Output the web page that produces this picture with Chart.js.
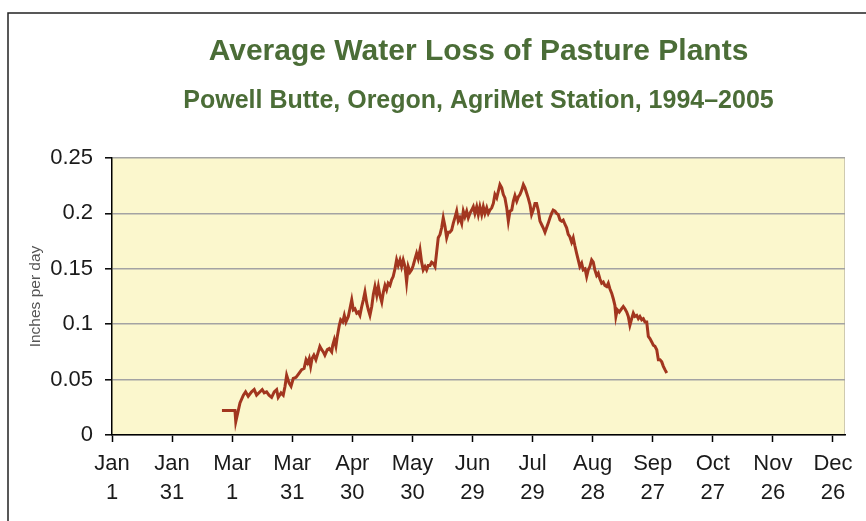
<!DOCTYPE html>
<html>
<head>
<meta charset="utf-8">
<script src="https://cdn.jsdelivr.net/npm/chart.js@4/dist/chart.umd.min.js"></script>
<style>
  body { margin: 0; background: #fff; }
</style>
</head>
<body>
<canvas id="waterChart" width="866" height="521"></canvas>
<script>
// DATA
const titleText = 'Average Water Loss of Pasture Plants';
const subtitleText = 'Powell Butte, Oregon, AgriMet Station, 1994–2005';

// day of year (0 = Jan 1)
const dayOfYear = [
    54.9, 61.4, 61.8, 63.9, 65.6, 66.7, 68.0, 69.7, 71.0, 72.2,
    73.9, 75.0, 76.0, 77.2, 78.4, 79.7, 81.0, 82.2, 83.0, 84.4,
    85.5, 86.4, 87.2, 88.4, 89.4, 90.5, 91.9, 93.1, 94.7, 95.9,
    96.9, 97.7, 98.5, 99.2, 99.9, 100.8, 101.8, 103.0, 103.8, 104.7,
    105.5, 106.3, 107.5, 108.5, 109.7, 110.2, 111.0, 111.8, 112.5, 113.5,
    114.2, 115.2, 116.0, 116.8, 118.0, 118.8, 119.7, 120.5, 121.3, 122.2,
    123.0, 123.8, 124.7, 125.5, 126.3, 127.2, 128.0, 128.8, 129.7, 130.5,
    131.3, 132.2, 133.0, 133.8, 134.7, 135.5, 136.3, 137.1, 137.9, 138.8,
    139.6, 140.4, 141.3, 142.1, 142.9, 143.8, 144.6, 145.4, 146.3, 147.1,
    147.9, 148.8, 149.6, 150.4, 151.3, 152.1, 152.9, 153.8, 154.6, 155.4,
    156.3, 157.1, 157.9, 158.8, 159.6, 160.4, 161.3, 162.1, 162.9, 163.8,
    164.6, 165.4, 166.3, 167.1, 167.9, 168.7, 169.6, 170.4, 171.2, 172.1,
    172.9, 173.7, 174.6, 175.4, 176.2, 177.1, 177.9, 178.7, 179.6, 180.4,
    181.2, 182.1, 182.9, 183.7, 184.6, 185.4, 186.2, 187.1, 187.9, 188.7,
    189.6, 190.4, 191.2, 192.1, 192.9, 193.7, 194.6, 195.4, 196.2, 197.1,
    197.9, 198.7, 199.6, 200.4, 201.2, 202.1, 202.9, 203.7, 204.6, 205.4,
    206.2, 207.1, 207.8, 208.7, 209.5, 210.3, 211.2, 212.0, 212.8, 213.7,
    214.5, 215.3, 216.2, 217.0, 217.8, 218.7, 219.5, 220.3, 221.2, 222.0,
    222.8, 223.7, 224.5, 225.3, 226.2, 227.0, 227.8, 228.6, 229.5, 230.3,
    231.1, 232.0, 232.8, 233.6, 234.5, 235.3, 236.2, 237.0, 237.8, 238.6,
    239.5, 240.3, 241.1, 242.0, 242.8, 243.6, 244.5, 245.3, 246.1, 247.0,
    247.8, 248.6, 249.5, 250.3, 251.1, 251.6, 252.3, 253.3, 254.5, 255.3,
    256.1, 257.0, 257.8, 258.6, 259.5, 260.3, 261.1, 262.0, 262.8, 263.6,
    264.5, 265.3, 266.1, 267.0, 267.8, 268.6, 269.5, 270.3, 271.1, 272.0,
    272.8, 273.6, 274.5, 275.3, 276.1, 277.0
];

// inches per day
const inchesPerDay = [
    0.022, 0.022, 0.012, 0.029, 0.036, 0.039, 0.035, 0.039, 0.041, 0.036,
    0.039, 0.041, 0.038, 0.039, 0.036, 0.034, 0.039, 0.041, 0.034, 0.038,
    0.036, 0.044, 0.054, 0.047, 0.044, 0.051, 0.052, 0.055, 0.059, 0.060,
    0.068, 0.065, 0.069, 0.062, 0.069, 0.072, 0.068, 0.075, 0.080, 0.077,
    0.075, 0.072, 0.077, 0.078, 0.075, 0.081, 0.086, 0.080, 0.089, 0.099,
    0.104, 0.102, 0.108, 0.102, 0.107, 0.114, 0.122, 0.113, 0.114, 0.110,
    0.111, 0.108, 0.116, 0.122, 0.129, 0.119, 0.113, 0.108, 0.116, 0.127,
    0.134, 0.126, 0.134, 0.126, 0.120, 0.129, 0.135, 0.131, 0.137, 0.135,
    0.140, 0.143, 0.150, 0.158, 0.153, 0.158, 0.152, 0.158, 0.152, 0.138,
    0.152, 0.147, 0.149, 0.153, 0.159, 0.164, 0.159, 0.167, 0.156, 0.149,
    0.152, 0.149, 0.153, 0.153, 0.156, 0.155, 0.152, 0.165, 0.178, 0.181,
    0.187, 0.196, 0.188, 0.178, 0.183, 0.183, 0.185, 0.191, 0.196, 0.202,
    0.193, 0.196, 0.191, 0.202, 0.197, 0.202, 0.196, 0.200, 0.203, 0.206,
    0.200, 0.206, 0.199, 0.206, 0.199, 0.206, 0.200, 0.205, 0.200, 0.203,
    0.205, 0.209, 0.217, 0.214, 0.220, 0.226, 0.223, 0.217, 0.214, 0.205,
    0.193, 0.202, 0.203, 0.211, 0.216, 0.211, 0.215, 0.217, 0.221, 0.226,
    0.223, 0.218, 0.214, 0.208, 0.199, 0.203, 0.209, 0.209, 0.203, 0.193,
    0.190, 0.187, 0.183, 0.187, 0.191, 0.196, 0.200, 0.203, 0.202, 0.200,
    0.199, 0.194, 0.193, 0.194, 0.190, 0.187, 0.181, 0.179, 0.174, 0.178,
    0.171, 0.164, 0.158, 0.152, 0.155, 0.149, 0.150, 0.143, 0.149, 0.152,
    0.158, 0.156, 0.149, 0.144, 0.146, 0.141, 0.137, 0.138, 0.135, 0.134,
    0.137, 0.132, 0.128, 0.123, 0.117, 0.107, 0.113, 0.111, 0.114, 0.116,
    0.114, 0.111, 0.107, 0.099, 0.105, 0.110, 0.107, 0.108, 0.105, 0.107,
    0.104, 0.105, 0.102, 0.102, 0.089, 0.087, 0.084, 0.081, 0.080, 0.077,
    0.068, 0.068, 0.066, 0.062, 0.059, 0.056
];

// x axis ticks every 30 days
const tickDays = [0, 30, 60, 90, 120, 150, 180, 210, 240, 270, 300, 330, 360];
const tickMonths = ['Jan', 'Jan', 'Mar', 'Mar', 'Apr', 'May', 'Jun', 'Jul', 'Aug', 'Sep', 'Oct', 'Nov', 'Dec'];
const tickDates = ['1', '31', '1', '31', '30', '30', '29', '29', '28', '27', '27', '26', '26'];
const yTicks = [0, 0.05, 0.1, 0.15, 0.2, 0.25];

const FONT = '"Liberation Sans", Arial, Helvetica, sans-serif';

// background, frame and plot fill
const backdrop = {
    id: 'backdrop',
    beforeDraw(chart) {
        const { ctx, chartArea: a } = chart;
        ctx.save();
        ctx.fillStyle = '#ffffff';
        ctx.fillRect(0, 0, chart.width, chart.height);
        ctx.strokeStyle = '#222';
        ctx.lineWidth = 1.5;
        ctx.beginPath();
        ctx.moveTo(8, chart.height);
        ctx.lineTo(8, 13);
        ctx.lineTo(chart.width, 13);
        ctx.stroke();
        ctx.fillStyle = '#fbf7cd';
        ctx.fillRect(a.left, a.top, a.right - a.left, a.bottom - a.top);
        ctx.strokeStyle = '#cfcab0';
        ctx.lineWidth = 1;
        ctx.beginPath();
        ctx.moveTo(a.right - 0.5, a.top);
        ctx.lineTo(a.right - 0.5, a.bottom);
        ctx.stroke();
        ctx.restore();
    }
};

// title block centred over the plot area
const headings = {
    id: 'headings',
    afterDraw(chart) {
        const { ctx, chartArea: a } = chart;
        const cx = (a.left + a.right) / 2;
        ctx.save();
        ctx.fillStyle = '#4b6d37';
        ctx.textAlign = 'center';
        ctx.textBaseline = 'middle';
        ctx.font = 'bold 30px ' + FONT;
        ctx.fillText(titleText, cx, 52);
        ctx.font = 'bold 25px ' + FONT;
        ctx.fillText(subtitleText, cx, 101);
        ctx.restore();
    }
};

const ctx = document.getElementById('waterChart').getContext('2d');
const waterChart = new Chart(ctx, {
    type: 'line',
    data: {
        datasets: [{
            label: 'Inches per day',
            data: dayOfYear.map((d, i) => ({ x: d, y: inchesPerDay[i] })),
            borderColor: '#a2361f',
            borderWidth: 3,
            pointRadius: 0,
            tension: 0,
            fill: false
        }]
    },
    options: {
        responsive: false,
        animation: false,
        layout: { padding: { top: 158, right: 21, bottom: 0, left: 0 } },
        plugins: {
            legend: { display: false },
            tooltip: { enabled: false }
        },
        scales: {
            x: {
                type: 'linear',
                min: 0,
                max: 366,
                afterBuildTicks: (scale) => { scale.ticks = tickDays.map(v => ({ value: v })); },
                afterFit: (scale) => { scale.height = 86; },
                grid: { drawOnChartArea: false, tickLength: 7, tickColor: '#000', tickWidth: 1.5 },
                border: { color: '#000', width: 1.5 },
                ticks: {
                    autoSkip: false,
                    maxRotation: 0,
                    padding: 8,
                    color: '#1a1a1a',
                    font: { family: FONT, size: 22, lineHeight: 1.29 },
                    callback: (value, index) => [tickMonths[index], tickDates[index]]
                }
            },
            y: {
                min: 0,
                max: 0.25,
                afterBuildTicks: (scale) => { scale.ticks = yTicks.map(v => ({ value: v })); },
                afterFit: (scale) => { scale.width = 112; },
                grid: { color: '#a3a3a3', lineWidth: 1.6, tickLength: 7, tickColor: '#000', tickWidth: 1.5 },
                border: { color: '#000', width: 1.5 },
                ticks: {
                    padding: 12,
                    color: '#1a1a1a',
                    font: { family: FONT, size: 22 },
                    callback: (value) => String(+value.toFixed(2))
                },
                title: {
                    display: true,
                    text: 'Inches per day',
                    color: '#555',
                    padding: { top: 26, bottom: 0 },
                    font: { family: FONT, size: 15.5 }
                }
            }
        }
    },
    plugins: [backdrop, headings]
});
</script>
</body>
</html>
